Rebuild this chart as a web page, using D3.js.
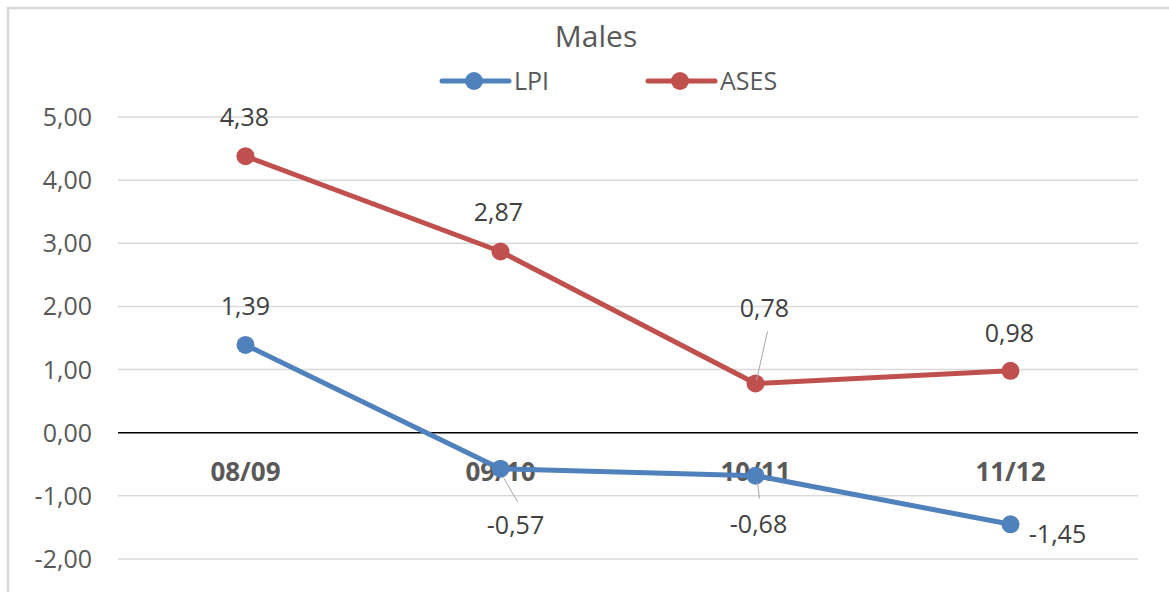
<!DOCTYPE html>
<html lang="en">
<head>
    <meta charset="UTF-8">
    <title>Males</title>
    <script src="https://d3js.org/d3.v7.min.js"></script>
    <style>
        html, body{
            margin: 0;
            padding: 0;
            background: #fff;
        }
        svg{
            display: block;
        }
        text{
            font-family: "Open Sans", "Noto Sans", sans-serif;
        }
    </style>
</head>
<body>
<script>

    // data
    const categories = ["08/09", "09/10", "10/11", "11/12"]
    const lpi  = [1.39, -0.57, -0.68, -1.45]
    const ases = [4.38, 2.87, 0.78, 0.98]
    const yTicks = [-2, -1, 0, 1, 2, 3, 4, 5]

    const series = [
        {name: "LPI",  values: lpi,  color: "#4f81bd"},
        {name: "ASES", values: ases, color: "#c0504d"}
    ]

    // label placement (as Excel left them), offsets from the point
    const labelOffsets = {
        LPI:  [[0, -30], [15, 65], [3, 57], [47, 19]],
        ASES: [[-1, -30], [-2, -30], [9, -66], [-1, -29]]
    }
    // leader lines, two ends as offsets from the point
    const leaders = {
        LPI:  [null, [[3, 9], [17, 33]], [[2, 7], [4, 23]], null],
        ASES: [null, null, [[12, -52], [1, -3]], null]
    }

    const width = 1169
    const height = 592
    // comma decimals, plain hyphen for negatives
    const fmt = v => d3.format(".2f")(v).replace(".", ",").replace("\u2212", "-")

    let svg = d3.select("body").append("svg")
                .attr("width", width)
                .attr("height", height)

    // chart frame (cut off on the right and bottom)
    svg.append("rect")
        .attr("x", 8).attr("y", 8)
        .attr("width", 1300).attr("height", 800)
        .attr("fill", "#fff")
        .attr("stroke", "#d9d9d9")
        .attr("stroke-width", 2.5)

    const x = d3.scalePoint().domain(categories).range([118, 1138]).padding(0.5)
    const y = d3.scaleLinear().domain([-2, 5]).range([559, 117])

    // gridlines + y labels
    let gGrid = svg.append("g")
    gGrid.selectAll("line")
        .data(yTicks.filter(d => d !== 0))
        .enter()
        .append("line")
        .attr("x1", 118).attr("x2", 1138)
        .attr("y1", d => y(d)).attr("y2", d => y(d))
        .attr("stroke", "#d9d9d9")
        .attr("stroke-width", 1.5)

    gGrid.selectAll("text")
        .data(yTicks)
        .enter()
        .append("text")
        .attr("x", 92)
        .attr("y", d => y(d) + 9)
        .attr("text-anchor", "end")
        .attr("font-size", 25)
        .attr("fill", "#595959")
        .text(d => fmt(d))

    // category labels sit just under the zero line
    svg.append("g").selectAll("text")
        .data(categories)
        .enter()
        .append("text")
        .attr("x", d => x(d))
        .attr("y", y(0) + 48)
        .attr("text-anchor", "middle")
        .attr("font-size", 26)
        .attr("font-weight", "bold")
        .attr("fill", "#595959")
        .text(d => d)

    // zero axis
    svg.append("line")
        .attr("x1", 118).attr("x2", 1138)
        .attr("y1", y(0)).attr("y2", y(0))
        .attr("stroke", "#000")
        .attr("stroke-width", 1.5)

    const line = d3.line()
        .x((d, i) => x(categories[i]))
        .y(d => y(d))

    series.forEach(s => {
        let g = svg.append("g")
        g.append("path")
            .datum(s.values)
            .attr("d", line)
            .attr("fill", "none")
            .attr("stroke", s.color)
            .attr("stroke-width", 5)
            .attr("stroke-linejoin", "round")
        g.selectAll("circle")
            .data(s.values)
            .enter()
            .append("circle")
            .attr("cx", (d, i) => x(categories[i]))
            .attr("cy", d => y(d))
            .attr("r", 9)
            .attr("fill", s.color)
    })

    // leader lines + data labels
    series.forEach(s => {
        let g = svg.append("g")
        s.values.forEach((v, i) => {
            const px = x(categories[i]), py = y(v)
            const ld = leaders[s.name][i]
            if (ld) {
                g.append("line")
                    .attr("x1", px + ld[0][0]).attr("y1", py + ld[0][1])
                    .attr("x2", px + ld[1][0]).attr("y2", py + ld[1][1])
                    .attr("stroke", "#a6a6a6")
                    .attr("stroke-width", 1)
            }
            const off = labelOffsets[s.name][i]
            g.append("text")
                .attr("x", px + off[0])
                .attr("y", py + off[1])
                .attr("text-anchor", "middle")
                .attr("font-size", 25)
                .attr("fill", "#404040")
                .text(fmt(v))
        })
    })

    // title
    svg.append("text")
        .attr("x", 596).attr("y", 47)
        .attr("text-anchor", "middle")
        .attr("font-size", 30)
        .attr("fill", "#595959")
        .text("Males")

    // legend
    let gLegend = svg.append("g")
    const legendX = [442, 648]
    series.forEach((s, i) => {
        let lg = gLegend.append("g").attr("transform", `translate(${legendX[i]},81)`)
        lg.append("line")
            .attr("x1", 0).attr("x2", 67)
            .attr("stroke", s.color)
            .attr("stroke-width", 5)
            .attr("stroke-linecap", "round")
        lg.append("circle")
            .attr("cx", 32).attr("r", 9)
            .attr("fill", s.color)
        lg.append("text")
            .attr("x", 72).attr("y", 9)
            .attr("font-size", 25)
            .attr("fill", "#595959")
            .text(s.name)
    })

</script>
</body>
</html>
